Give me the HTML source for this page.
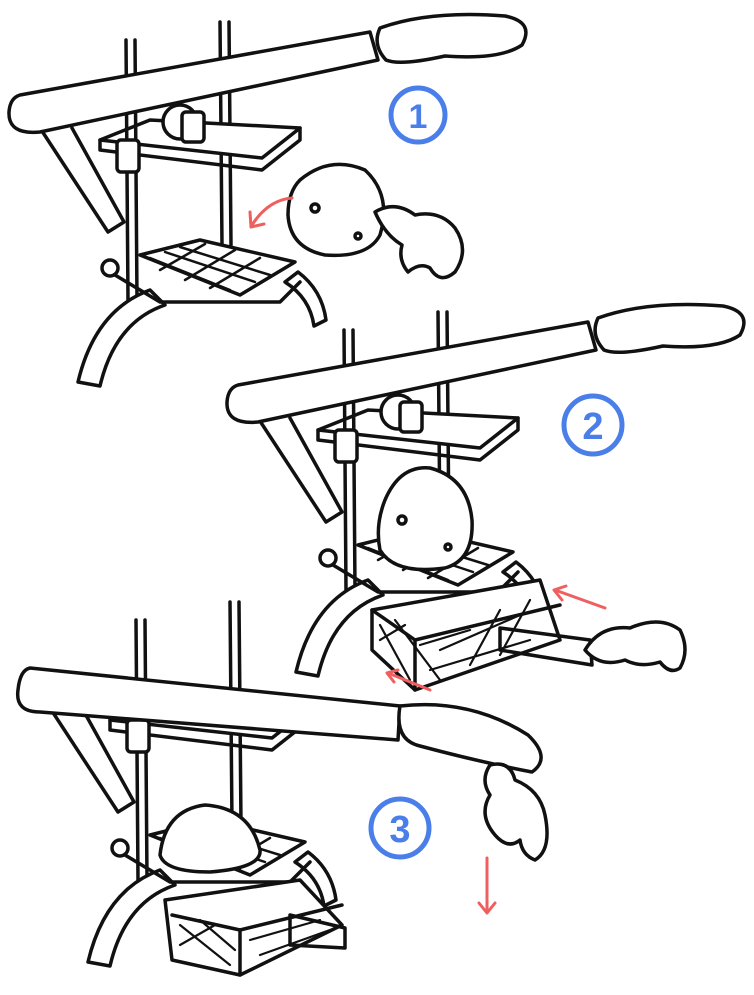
<!DOCTYPE html>
<html><head><meta charset="utf-8"><style>
html,body{margin:0;padding:0;background:#fff;}
svg{display:block;}
</style></head><body>
<svg width="754" height="995" viewBox="0 0 754 995" xmlns="http://www.w3.org/2000/svg">
<defs>
<g id="device" fill="#fff" stroke="#111" stroke-width="3.5" stroke-linejoin="round" stroke-linecap="round">
  <path d="M40,128 L108,232 L124,222 L72,128" />
  <path d="M220,22 L222,245 M229,22 L231,245" fill="none"/>
  <path d="M100,140 L150,120 L300,128 L262,158 Z"/>
  <path d="M100,140 L100,150 L262,170 L300,140 L300,128" fill="none"/>
  <path d="M126,40 L128,300 M135,40 L137,300" fill="none"/>
  <rect x="117" y="140" width="22" height="32" rx="4"/>
  <circle cx="180" cy="122" r="17"/>
  <rect x="182" y="112" width="22" height="30" rx="4"/>
  <path d="M150,290 Q95,310 78,382 L100,386 Q115,322 165,305 Z"/>
  <path d="M285,282 Q310,298 314,326 L326,320 Q322,290 298,272 Z"/>
  <path d="M140,255 L200,240 L295,262 L240,295 Z"/>
  <path d="M108,262 L110,272 L160,302 L280,302 L300,282" fill="none"/>
  <path d="M150,258 L230,290 M165,252 L255,282 M180,247 L270,275 M160,270 L205,244 M185,280 L235,250 M210,288 L260,258" fill="none" stroke-width="2.5"/>
  <circle cx="110" cy="268" r="8"/>
</g>
<g id="lever" fill="#fff" stroke="#111" stroke-width="3.5" stroke-linejoin="round" stroke-linecap="round">
  <path d="M20,95 L370,32 L378,60 L40,132 Q8,135 9,112 Q10,98 20,95 Z"/>
  <path d="M380,28 Q430,10 505,16 Q535,22 522,45 Q500,60 445,56 Q400,66 386,60 Q372,45 380,28 Z"/>
</g>
</defs>

<use href="#device"/>
<use href="#device" transform="translate(218,290)"/>
<use href="#device" transform="translate(10,580)"/>

<g fill="#fff" stroke="#111" stroke-width="3.5" stroke-linecap="round" stroke-linejoin="round">
  <!-- step1 potato & hand -->
  <path d="M300,180 Q330,155 365,170 Q392,195 380,235 Q368,258 325,255 Q290,248 288,215 Q288,192 300,180 Z"/>
  <circle cx="315" cy="208" r="4"/><circle cx="358" cy="236" r="3"/>
  <path d="M375,212 Q395,200 415,215 Q440,210 455,228 Q470,250 455,272 Q440,285 430,268 Q420,262 408,272 Q398,260 402,245 Q385,235 375,212 Z"/>
  <!-- step2 potato, basket, hand -->
  <path d="M385,500 Q400,465 430,468 Q468,478 472,520 Q474,560 445,568 Q395,575 380,550 Q375,525 385,500 Z"/>
  <circle cx="402" cy="520" r="4"/><circle cx="448" cy="547" r="3"/>
  <path d="M372,610 L540,580 L560,640 L415,690 L372,650 Z"/>
  <path d="M372,610 L415,640 L560,605 M415,640 L415,690" fill="none"/>
  <path d="M380,625 L410,680 M395,620 L440,680 M420,645 L470,630 M440,650 L520,615 M430,670 L530,640 M380,640 L405,625 M470,665 L500,610 M500,655 L530,600" fill="none" stroke-width="2.2"/>
  <path d="M500,628 L590,640 L592,665 L500,650 Z" fill="none"/>
  <path d="M585,650 Q600,625 630,628 Q660,615 680,630 Q690,650 680,668 Q670,675 660,662 Q640,668 625,660 Q600,668 585,650 Z"/>
  <!-- step3 potato, basket, hand -->
  <path d="M160,855 Q165,810 205,805 Q250,808 260,850 Q262,868 210,872 Q165,872 160,855 Z"/>
  <path d="M165,900 L300,880 L342,925 L240,975 L172,960 Z"/>
  <path d="M172,915 L240,930 L342,905 M240,930 L240,975" fill="none"/>
  <path d="M180,925 L230,965 M200,920 L235,950 M250,940 L320,920 M260,955 L330,930 M180,945 L215,925" fill="none" stroke-width="2.2"/>
  <path d="M290,915 L345,928 L345,948 L290,945 Z" fill="none"/>
</g>

<use href="#lever"/>
<use href="#lever" transform="translate(218,290)"/>
<g fill="#fff" stroke="#111" stroke-width="3.5" stroke-linejoin="round" stroke-linecap="round">
  <path d="M30,668 L400,706 L398,740 L40,712 Q15,712 18,690 Q20,670 30,668 Z"/>
  <path d="M400,706 Q470,698 528,735 Q552,758 532,772 Q480,762 420,746 Q394,740 400,706 Z"/>
</g>
<g fill="#fff" stroke="#111" stroke-width="3.5" stroke-linecap="round" stroke-linejoin="round">
  <path d="M490,765 Q510,760 515,780 Q540,790 545,815 Q552,850 535,860 Q522,855 520,840 Q508,850 495,835 Q478,815 490,795 Q480,780 490,765 Z"/>
</g>

<g stroke="#ef5f5f" stroke-width="3" fill="none" stroke-linecap="round" stroke-linejoin="round">
  <path d="M292,198 Q268,200 252,225 M250,212 L251,227 L264,224"/>
  <path d="M605,608 L555,590 M566,586 L554,590 L562,600"/>
  <path d="M430,690 L388,673 M398,670 L387,673 L394,682"/>
  <path d="M487,858 L487,913 M479,903 L487,913 L495,903"/>
</g>

<g fill="none" stroke="#4a7ee8" stroke-width="5">
  <circle cx="418" cy="115" r="27"/>
  <circle cx="593" cy="425" r="29"/>
  <circle cx="400" cy="828" r="29"/>
</g>
<g fill="#4a7ee8" font-family="Liberation Sans, sans-serif" font-weight="bold" text-anchor="middle">
  <text x="418" y="128" font-size="34">1</text>
  <text x="593" y="439" font-size="38">2</text>
  <text x="400" y="842" font-size="38">3</text>
</g>
</svg>
</body></html>
